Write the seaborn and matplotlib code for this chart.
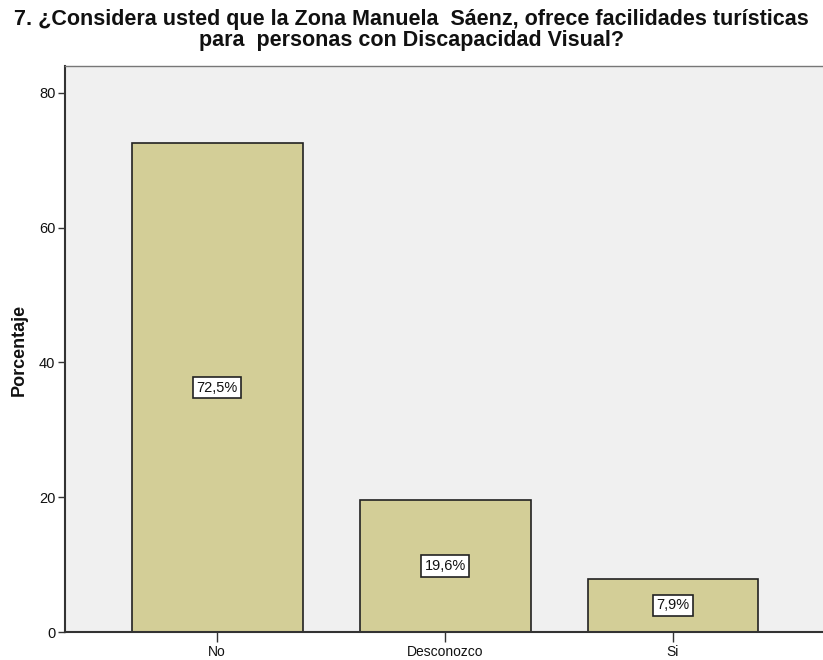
import matplotlib
matplotlib.use("Agg")
import matplotlib.pyplot as plt
import seaborn as sns
import pandas as pd
from matplotlib import font_manager

categories = ["No", "Desconozco", "Si"]
values = [72.5, 19.6, 7.9]
labels = ["72,5%", "19,6%", "7,9%"]
yticks = [0, 20, 40, 60, 80]

names = {f.name for f in font_manager.fontManager.ttflist}
narrow = "Liberation Sans Narrow" if "Liberation Sans Narrow" in names else "Liberation Sans"

sns.set_style("white")
plt.rcParams['font.family'] = [narrow, 'DejaVu Sans']
plt.rcParams['text.color'] = '#111111'
plt.rcParams['xtick.color'] = '#111111'
plt.rcParams['ytick.color'] = '#111111'

df = pd.DataFrame({"cat": categories, "val": values})

fig = plt.figure(figsize=(8.23, 6.6), dpi=100)
ax = fig.add_axes([0.079, 0.0424, 0.921, 0.8576])
ax.set_facecolor("#F0F0F0")

sns.barplot(data=df, x="cat", y="val", color="#D3CE97", saturation=1,
            edgecolor="#222222", linewidth=1.2, width=0.75, ax=ax)

for i, (v, lab) in enumerate(zip(values, labels)):
    ax.text(i, v / 2, lab, ha="center", va="center", fontsize=10.5,
            bbox=dict(boxstyle="square,pad=0.25", facecolor="white",
                      edgecolor="#222222", linewidth=1.2))

ax.set_xlim(-0.667, 2.658)
ax.set_ylim(0, 84)
ax.set_yticks(yticks)
ax.set_yticklabels([str(t) for t in yticks], fontsize=10.5)
ax.tick_params(axis="y", direction="out", length=5, width=1, color="#333333", pad=2, left=True)
ax.tick_params(axis="x", direction="out", length=7, width=1, color="#333333", labelsize=10, pad=2, bottom=True)
ax.set_xlabel("")
ax.set_ylabel("")
fig.text(19 / 823, 0.47, "Porcentaje", rotation=90, ha="center", va="center",
         fontsize=13, fontweight="bold")

for s in ["left", "bottom"]:
    ax.spines[s].set_color("#333333")
    ax.spines[s].set_linewidth(1.5)
ax.spines["top"].set_color("#777777")
ax.spines["top"].set_linewidth(1)
ax.spines["right"].set_visible(False)

fig.text(0.5, 0.987, "7. ¿Considera usted que la Zona Manuela  Sáenz, ofrece facilidades turísticas\npara  personas con Discapacidad Visual?",
         ha="center", va="top", fontsize=15.5, fontweight="bold", linespacing=1.05)

fig.savefig("out.png", dpi=100)
